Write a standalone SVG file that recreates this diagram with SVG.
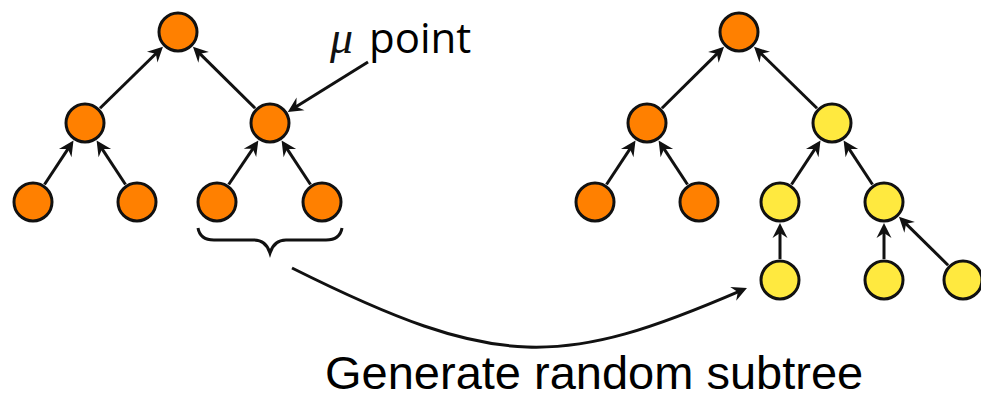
<svg xmlns="http://www.w3.org/2000/svg" width="981" height="395" viewBox="0 0 981 395">
<style>
.n{stroke:#111;stroke-width:3}
.o{fill:#FF8000}
.y{fill:#FFE93F}
.e{stroke:#111;stroke-width:3;fill:none;marker-end:url(#ah)}
.lbl{font-family:"Liberation Sans",Arial,sans-serif;fill:#000}
</style>
<defs>
<marker id="ah" markerUnits="userSpaceOnUse" viewBox="-14 -10 20 20" refX="0" refY="0" markerWidth="20" markerHeight="20" orient="auto">
<path d="M4,0 L-11,-7.5 L-6,0 L-11,7.5 Z" fill="#111"/>
</marker>
</defs>
<rect width="981" height="395" fill="#fff"/>
<g id="connectors">
<line class="e" x1="100" y1="108.3" x2="160.1" y2="49.5"/>
<line class="e" x1="255.1" y1="108.2" x2="195.8" y2="49.6"/>
<line class="e" x1="44.5" y1="184.5" x2="71.3" y2="143.9"/>
<line class="e" x1="125.5" y1="184.5" x2="98.8" y2="143.9"/>
<line class="e" x1="228.7" y1="184.5" x2="256.1" y2="143.8"/>
<line class="e" x1="310.5" y1="184.5" x2="283.8" y2="143.9"/>
<line class="e" x1="661.9" y1="108.2" x2="721.2" y2="49.6"/>
<line class="e" x1="817" y1="108.3" x2="756.9" y2="49.5"/>
<line class="e" x1="606.5" y1="184.5" x2="633.3" y2="143.9"/>
<line class="e" x1="687.5" y1="184.5" x2="660.8" y2="143.9"/>
<line class="e" x1="791.5" y1="184.5" x2="818.3" y2="143.9"/>
<line class="e" x1="872.5" y1="184.5" x2="845.8" y2="143.9"/>
<line class="e" x1="780" y1="259" x2="780" y2="227"/>
<line class="e" x1="884" y1="259" x2="884" y2="227"/>
<line class="e" x1="948.1" y1="265.2" x2="901.8" y2="219.6"/>
<line class="e" x1="368" y1="62" x2="291.2" y2="109.8"/>
<path class="e" d="M292,268 C498.5,371.3 561.7,368.2 743.3,289.6"/>
<path d="M198,228 Q200,240 214,240 L254,240 Q266,240 270,253 Q274,240 286,240 L326,240 Q340,240 342,228" fill="none" stroke="#111" stroke-width="3"/>
</g>
<g id="l-root"><circle class="n o" cx="178" cy="32" r="19"/></g>
<g id="l-b"><circle class="n o" cx="85" cy="123" r="19"/></g>
<g id="l-c"><circle class="n o" cx="270" cy="123" r="19"/></g>
<g id="l-d"><circle class="n o" cx="33" cy="202" r="19"/></g>
<g id="l-e"><circle class="n o" cx="137" cy="202" r="19"/></g>
<g id="l-f"><circle class="n o" cx="217" cy="202" r="19"/></g>
<g id="l-g"><circle class="n o" cx="322" cy="202" r="19"/></g>
<g id="r-root"><circle class="n o" cx="739" cy="32" r="19"/></g>
<g id="r-b"><circle class="n o" cx="647" cy="123" r="19"/></g>
<g id="r-c"><circle class="n y" cx="832" cy="123" r="19"/></g>
<g id="r-d"><circle class="n o" cx="595" cy="202" r="19"/></g>
<g id="r-e"><circle class="n o" cx="699" cy="202" r="19"/></g>
<g id="r-f"><circle class="n y" cx="780" cy="202" r="19"/></g>
<g id="r-g"><circle class="n y" cx="884" cy="202" r="19"/></g>
<g id="r-h"><circle class="n y" cx="780" cy="280" r="19"/></g>
<g id="r-i"><circle class="n y" cx="884" cy="280" r="19"/></g>
<g id="r-j"><circle class="n y" cx="963" cy="280" r="19"/></g>
<g id="label-mu">
<text x="330" y="53" font-family="'Liberation Serif',serif" font-style="italic" font-size="46" fill="#111">μ</text>
<text x="369" y="53" font-family="'Open Sans',sans-serif" font-size="42" fill="#000">point</text>
</g>
<g id="label-gen">
<text class="lbl" x="325" y="389" font-size="47">Generate random subtree</text>
</g>
</svg>
